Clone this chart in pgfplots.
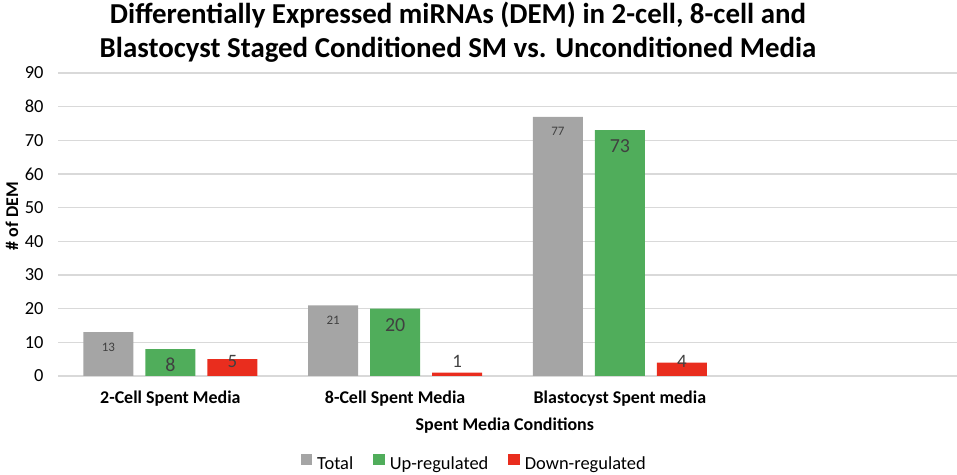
\documentclass[border=0pt]{standalone}
\usepackage{fontspec}
\setmainfont{Carlito}
\usepackage{pgfplots}
\pgfplotsset{compat=1.18}
\definecolor{cgray}{RGB}{165,165,165}
\definecolor{cgreen}{RGB}{80,173,91}
\definecolor{cred}{RGB}{233,45,30}
\definecolor{cgrid}{RGB}{217,217,217}
\definecolor{ctext}{RGB}{64,64,64}
\begin{document}
\begin{tikzpicture}[x=1bp,y=1bp]
\path[use as bounding box] (0,0) rectangle (957,475);
\node[anchor=base,font=\bfseries\fontsize{29}{33}\selectfont] at (458,451) {Differentially Expressed miRNAs (DEM) in 2-cell, 8-cell and};
\node[anchor=base,font=\bfseries\fontsize{29}{33}\selectfont] at (458,417) {Blastocyst Staged Conditioned SM vs. Unconditioned Media};
\begin{axis}[
  at={(58bp,99bp)}, anchor=south west,
  scale only axis, width=899bp, height=303bp,
  xmin=-0.5, xmax=3.5, ymin=0, ymax=90,
  ytick={0,10,...,90},
  xtick={0,1,2},
  xticklabels={2-Cell Spent Media,8-Cell Spent Media,Blastocyst Spent media},
  axis line style={draw=none},
  ymajorgrids, major grid style={cgrid, line width=1.2bp},
  tick style={draw=none},
  /pgf/number format/assume math mode=true,
  yticklabel style={font=\fontsize{18.5}{21}\selectfont, xshift=-11bp},
  xticklabel style={font=\bfseries\fontsize{18}{21}\selectfont, yshift=-7bp},
  xlabel={Spent Media Conditions},
  xlabel style={font=\bfseries\fontsize{18}{21}\selectfont, at={(axis description cs:0.497,0)}, anchor=center, yshift=-50bp},
  ylabel={\# of DEM},
  ylabel style={font=\bfseries\fontsize{18}{21}\selectfont, at={(axis description cs:-0.0512,0.528)}, anchor=center},
  ybar=12bp, bar width=50bp,
  legend style={at={(axis description cs:0.463,-0.289)}, anchor=center, legend columns=-1, draw=none, font=\fontsize{18.5}{22}\selectfont,
    /tikz/every odd column/.append style={column sep=3bp},
    /tikz/every even column/.append style={column sep=18bp}},
  legend image code/.code={\fill[#1] (0bp,-1bp) rectangle (11.5bp,10.5bp);},
]
\addplot[fill=cgray, draw=none, nodes near coords,
  every node near coord/.append style={anchor=center, yshift=-15bp, font=\fontsize{13}{15}\selectfont, text=ctext}]
  coordinates {(0,13) (1,21) (2,77)};
\addplot[fill=cgreen, draw=none, nodes near coords,
  every node near coord/.append style={anchor=center, yshift=-16bp, font=\fontsize{20}{22}\selectfont, text=ctext}]
  coordinates {(0,8) (1,20) (2,73)};
\addplot[fill=cred, draw=none, nodes near coords,
  visualization depends on={rawy \as \ry},
  every node near coord/.append style={anchor=center, yshift={(4.4-\ry)*3.367}, font=\fontsize{19}{22}\selectfont, text=ctext}]
  coordinates {(0,5) (1,1) (2,4)};
\legend{Total,Up-regulated,Down-regulated}
\end{axis}
\end{tikzpicture}
\end{document}
